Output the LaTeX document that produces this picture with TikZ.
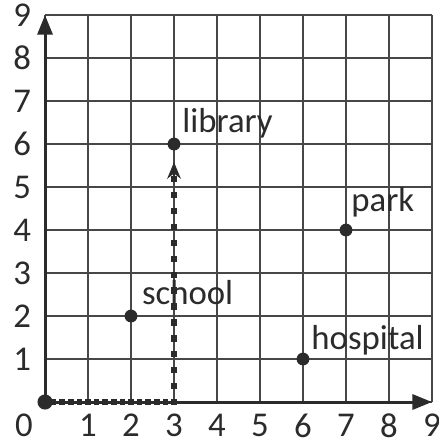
\documentclass[tikz,border=0pt]{standalone}
\usepackage{fontspec}
\setmainfont{Carlito}
\usetikzlibrary{arrows.meta,calc}
\definecolor{ink}{HTML}{2B2B2B}
\definecolor{gridc}{HTML}{474747}
\begin{document}
\begin{tikzpicture}[x=1cm,y=1cm,
  font=\fontsize{23}{27}\selectfont,
  gridline/.style={draw=gridc,line width=1pt},
  axisline/.style={draw=ink,line width=2pt,-{Triangle[length=13pt,width=10pt]}},
  pt/.style={circle,fill=ink,inner sep=0pt,minimum size=8.5pt},
  lbl/.style={text=ink,anchor=base west,inner sep=0pt},
  num/.style={text=ink,inner sep=0pt},
  sq/.style={fill=ink,draw=none,minimum size=3.6pt,inner sep=0pt,rectangle},
  dottip/.style={draw=ink,line width=1.4pt,-{Stealth[length=11pt,width=9pt,inset=3.5pt]}}]
\useasboundingbox[fill=white] (-1.047,-0.93) rectangle (9.14,9.35);
\draw[gridline] (0,0) grid (9,9);
\coordinate (O) at (0,0);
\coordinate (xend) at (9,0);
\coordinate (yend) at (0,9);
\draw[axisline] (O) -- (xend);
\draw[axisline] (O) -- (yend);
\coordinate (corner) at (3,0);
\coordinate (tipbase) at (3,5.18);
\coordinate (tip) at (3,5.58);
\foreach \k in {0,...,15} { \node[sq] (h\k) at ($(O)!\k/15!(corner)$) {}; }
\foreach \k in {1,...,14} { \node[sq,minimum size=4.2pt] (v\k) at ($(corner)!\k/14!(tipbase)$) {}; }
\draw[dottip] (tipbase) -- (tip);
\node[pt,minimum size=10pt] (origin) at (O) {};
\node[pt] (lib) at (3,6) {};
\node[pt] (park) at (7,4) {};
\node[pt] (school) at (2,2) {};
\node[pt] (hosp) at (6,1) {};
\node[lbl] (libl) at (3.19,6.26) {library};
\node[lbl] (parkl) at (7.12,4.42) {park};
\node[lbl] (schooll) at (2.25,2.26) {school};
\node[lbl] (hospl) at (6.19,1.23) {hospital};
\node[num] (x0) at (-0.49,-0.55) {0};
\foreach \i in {1,...,9} {
  \node[num] (x\i) at (\i,-0.55) {\i};
  \node[num] (y\i) at (-0.53,\i) {\i};
}
\end{tikzpicture}
\end{document}
